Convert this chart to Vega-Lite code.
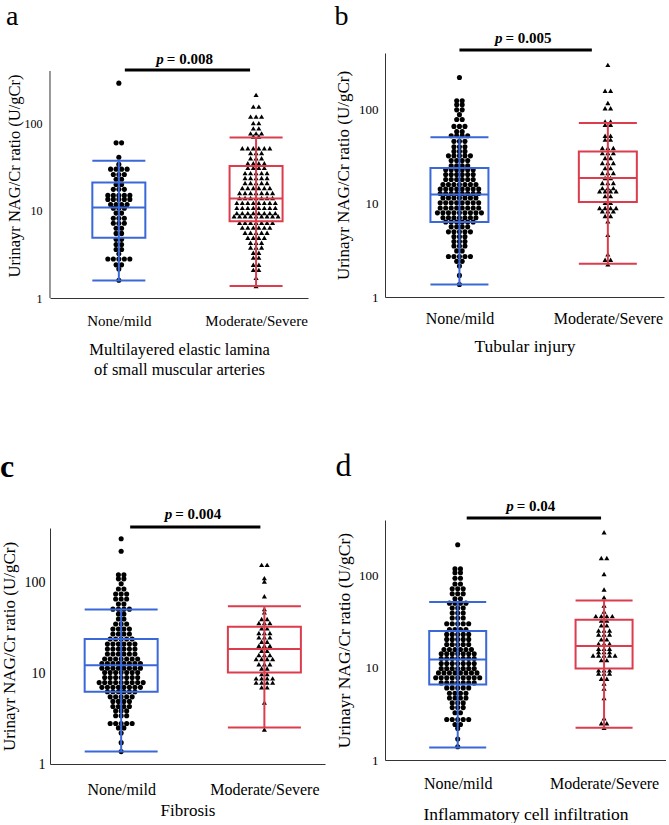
{
"$schema":"https://vega.github.io/schema/vega-lite/v6.json",
"padding":{"top":2,"left":0,"right":0,"bottom":0},
"config":{"view":{"stroke":null},"font":"Liberation Serif","axis":{"ticks":false,"grid":false,"domainColor":"#333","labelColor":"#000","titleColor":"#000","titleFontWeight":"normal","labelFont":"Liberation Serif","titleFont":"Liberation Serif"},"title":{"font":"Liberation Serif","color":"#000","anchor":"start","frame":"bounds"}},
"datasets":{
"box":[
{"p":"a","g":"N","lo":1.59,"q1":4.9,"md":10.9,"q3":21.1,"hi":37.5},
{"p":"a","g":"M","lo":1.37,"q1":7.6,"md":13.8,"q3":32.5,"hi":69},
{"p":"b","g":"N","lo":1.36,"q1":6.3,"md":12.4,"q3":23.8,"hi":50.4},
{"p":"b","g":"M","lo":2.26,"q1":10.3,"md":18.6,"q3":35.7,"hi":71.5},
{"p":"c","g":"N","lo":1.37,"q1":6.25,"md":12.3,"q3":23.9,"hi":50.4},
{"p":"c","g":"M","lo":2.52,"q1":10.2,"md":18.5,"q3":32.7,"hi":54.7},
{"p":"d","g":"N","lo":1.37,"q1":6.6,"md":12.3,"q3":25,"hi":51.5},
{"p":"d","g":"M","lo":2.23,"q1":9.8,"md":17.2,"q3":33.2,"hi":53.7}
],
"pv":[{"p":"a","t":"= 0.008"},{"p":"b","t":"= 0.005"},{"p":"c","t":"= 0.004"},{"p":"d","t":"= 0.04"}],
"pts":[
{"p":"a","g":"N","v":290},{"p":"a","g":"N","v":60},{"p":"a","g":"N","v":60},{"p":"a","g":"N","v":41},{"p":"a","g":"N","v":34},
{"p":"a","g":"N","v":30},{"p":"a","g":"N","v":30},{"p":"a","g":"N","v":30},{"p":"a","g":"N","v":30},
{"p":"a","g":"N","v":26},{"p":"a","g":"N","v":26},{"p":"a","g":"N","v":26},{"p":"a","g":"N","v":23},{"p":"a","g":"N","v":23},
{"p":"a","g":"N","v":20},{"p":"a","g":"N","v":20},{"p":"a","g":"N","v":17.6},{"p":"a","g":"N","v":17.6},{"p":"a","g":"N","v":17.6},
{"p":"a","g":"N","v":15},{"p":"a","g":"N","v":15},{"p":"a","g":"N","v":15},{"p":"a","g":"N","v":15},{"p":"a","g":"N","v":15},
{"p":"a","g":"N","v":13.5},{"p":"a","g":"N","v":13.5},{"p":"a","g":"N","v":13.5},{"p":"a","g":"N","v":13.5},{"p":"a","g":"N","v":13.5},
{"p":"a","g":"N","v":11.8},{"p":"a","g":"N","v":11.8},{"p":"a","g":"N","v":11.8},{"p":"a","g":"N","v":11.8},
{"p":"a","g":"N","v":10.7},{"p":"a","g":"N","v":10.7},{"p":"a","g":"N","v":10.7},{"p":"a","g":"N","v":9.4},{"p":"a","g":"N","v":9.4},
{"p":"a","g":"N","v":8.2},{"p":"a","g":"N","v":8.2},{"p":"a","g":"N","v":8.2},{"p":"a","g":"N","v":7.2},{"p":"a","g":"N","v":7.2},{"p":"a","g":"N","v":7.2},
{"p":"a","g":"N","v":6.3},{"p":"a","g":"N","v":6.3},{"p":"a","g":"N","v":5.5},{"p":"a","g":"N","v":5.5},{"p":"a","g":"N","v":4.7},{"p":"a","g":"N","v":4.7},
{"p":"a","g":"N","v":4.1},{"p":"a","g":"N","v":4.1},{"p":"a","g":"N","v":3.6},{"p":"a","g":"N","v":3.6},{"p":"a","g":"N","v":3.2},
{"p":"a","g":"N","v":2.8},{"p":"a","g":"N","v":2.8},{"p":"a","g":"N","v":2.8},{"p":"a","g":"N","v":2.8},{"p":"a","g":"N","v":2.8},
{"p":"a","g":"N","v":2.4},{"p":"a","g":"N","v":2.4},{"p":"a","g":"N","v":2.15},{"p":"a","g":"N","v":1.6},
{"p":"a","g":"M","v":213},{"p":"a","g":"M","v":156},{"p":"a","g":"M","v":156},{"p":"a","g":"M","v":120},{"p":"a","g":"M","v":120},{"p":"a","g":"M","v":120},
{"p":"a","g":"M","v":101},{"p":"a","g":"M","v":101},{"p":"a","g":"M","v":88},{"p":"a","g":"M","v":88},{"p":"a","g":"M","v":77},{"p":"a","g":"M","v":77},{"p":"a","g":"M","v":77},
{"p":"a","g":"M","v":71},{"p":"a","g":"M","v":71},
{"p":"a","g":"M","v":52},{"p":"a","g":"M","v":52},{"p":"a","g":"M","v":52},{"p":"a","g":"M","v":52},{"p":"a","g":"M","v":52},{"p":"a","g":"M","v":52},
{"p":"a","g":"M","v":46},{"p":"a","g":"M","v":46},{"p":"a","g":"M","v":46},{"p":"a","g":"M","v":40},{"p":"a","g":"M","v":40},{"p":"a","g":"M","v":40},
{"p":"a","g":"M","v":35},{"p":"a","g":"M","v":35},{"p":"a","g":"M","v":35},{"p":"a","g":"M","v":35},
{"p":"a","g":"M","v":31},{"p":"a","g":"M","v":31},{"p":"a","g":"M","v":31},{"p":"a","g":"M","v":31},
{"p":"a","g":"M","v":27},{"p":"a","g":"M","v":27},{"p":"a","g":"M","v":27},{"p":"a","g":"M","v":27},{"p":"a","g":"M","v":27},
{"p":"a","g":"M","v":23.7},{"p":"a","g":"M","v":23.7},{"p":"a","g":"M","v":23.7},{"p":"a","g":"M","v":23.7},{"p":"a","g":"M","v":23.7},
{"p":"a","g":"M","v":20.8},{"p":"a","g":"M","v":20.8},{"p":"a","g":"M","v":20.8},{"p":"a","g":"M","v":20.8},{"p":"a","g":"M","v":20.8},
{"p":"a","g":"M","v":18.2},{"p":"a","g":"M","v":18.2},{"p":"a","g":"M","v":18.2},{"p":"a","g":"M","v":18.2},{"p":"a","g":"M","v":18.2},{"p":"a","g":"M","v":18.2},
{"p":"a","g":"M","v":16},{"p":"a","g":"M","v":16},{"p":"a","g":"M","v":16},{"p":"a","g":"M","v":16},{"p":"a","g":"M","v":16},{"p":"a","g":"M","v":16},{"p":"a","g":"M","v":16},
{"p":"a","g":"M","v":14},{"p":"a","g":"M","v":14},{"p":"a","g":"M","v":14},{"p":"a","g":"M","v":14},{"p":"a","g":"M","v":14},{"p":"a","g":"M","v":14},{"p":"a","g":"M","v":14},
{"p":"a","g":"M","v":12.3},{"p":"a","g":"M","v":12.3},{"p":"a","g":"M","v":12.3},{"p":"a","g":"M","v":12.3},{"p":"a","g":"M","v":12.3},{"p":"a","g":"M","v":12.3},{"p":"a","g":"M","v":12.3},{"p":"a","g":"M","v":12.3},
{"p":"a","g":"M","v":10.8},{"p":"a","g":"M","v":10.8},{"p":"a","g":"M","v":10.8},{"p":"a","g":"M","v":10.8},{"p":"a","g":"M","v":10.8},{"p":"a","g":"M","v":10.8},{"p":"a","g":"M","v":10.8},{"p":"a","g":"M","v":10.8},
{"p":"a","g":"M","v":9.4},{"p":"a","g":"M","v":9.4},{"p":"a","g":"M","v":9.4},{"p":"a","g":"M","v":9.4},{"p":"a","g":"M","v":9.4},{"p":"a","g":"M","v":9.4},{"p":"a","g":"M","v":9.4},{"p":"a","g":"M","v":9.4},
{"p":"a","g":"M","v":8.65},{"p":"a","g":"M","v":8.65},{"p":"a","g":"M","v":8.65},{"p":"a","g":"M","v":8.65},{"p":"a","g":"M","v":8.65},{"p":"a","g":"M","v":8.65},{"p":"a","g":"M","v":8.65},{"p":"a","g":"M","v":8.65},{"p":"a","g":"M","v":8.65},
{"p":"a","g":"M","v":7.3},{"p":"a","g":"M","v":7.3},{"p":"a","g":"M","v":7.3},{"p":"a","g":"M","v":7.3},{"p":"a","g":"M","v":7.3},{"p":"a","g":"M","v":7.3},{"p":"a","g":"M","v":7.3},
{"p":"a","g":"M","v":6.4},{"p":"a","g":"M","v":6.4},{"p":"a","g":"M","v":6.4},{"p":"a","g":"M","v":6.4},{"p":"a","g":"M","v":6.4},{"p":"a","g":"M","v":6.4},
{"p":"a","g":"M","v":5.6},{"p":"a","g":"M","v":5.6},{"p":"a","g":"M","v":5.6},{"p":"a","g":"M","v":5.6},{"p":"a","g":"M","v":5.6},
{"p":"a","g":"M","v":4.9},{"p":"a","g":"M","v":4.9},{"p":"a","g":"M","v":4.9},{"p":"a","g":"M","v":4.9},
{"p":"a","g":"M","v":4.3},{"p":"a","g":"M","v":4.3},{"p":"a","g":"M","v":4.3},{"p":"a","g":"M","v":3.8},{"p":"a","g":"M","v":3.8},{"p":"a","g":"M","v":3.8},
{"p":"a","g":"M","v":3.3},{"p":"a","g":"M","v":3.3},{"p":"a","g":"M","v":2.9},{"p":"a","g":"M","v":2.9},{"p":"a","g":"M","v":2.4},{"p":"a","g":"M","v":2.4},
{"p":"a","g":"M","v":2.1},{"p":"a","g":"M","v":2.1},{"p":"a","g":"M","v":1.7},{"p":"a","g":"M","v":1.37},
{"p":"b","g":"N","v":219},{"p":"b","g":"N","v":124},{"p":"b","g":"N","v":124},{"p":"b","g":"N","v":112},{"p":"b","g":"N","v":112},{"p":"b","g":"N","v":99},{"p":"b","g":"N","v":99},
{"p":"b","g":"N","v":88},{"p":"b","g":"N","v":78},{"p":"b","g":"N","v":78},{"p":"b","g":"N","v":66},{"p":"b","g":"N","v":66},{"p":"b","g":"N","v":66},{"p":"b","g":"N","v":58},{"p":"b","g":"N","v":58},
{"p":"b","g":"N","v":52.5},{"p":"b","g":"N","v":52.5},{"p":"b","g":"N","v":52.5},{"p":"b","g":"N","v":52.5},
{"p":"b","g":"N","v":45.7},{"p":"b","g":"N","v":45.7},{"p":"b","g":"N","v":45.7},{"p":"b","g":"N","v":40},{"p":"b","g":"N","v":40},{"p":"b","g":"N","v":40},
{"p":"b","g":"N","v":35.7},{"p":"b","g":"N","v":35.7},{"p":"b","g":"N","v":35.7},
{"p":"b","g":"N","v":32},{"p":"b","g":"N","v":32},{"p":"b","g":"N","v":32},{"p":"b","g":"N","v":32},{"p":"b","g":"N","v":32},
{"p":"b","g":"N","v":28.5},{"p":"b","g":"N","v":28.5},{"p":"b","g":"N","v":28.5},{"p":"b","g":"N","v":28.5},
{"p":"b","g":"N","v":25},{"p":"b","g":"N","v":25},{"p":"b","g":"N","v":25},{"p":"b","g":"N","v":25},
{"p":"b","g":"N","v":22.8},{"p":"b","g":"N","v":22.8},{"p":"b","g":"N","v":22.8},{"p":"b","g":"N","v":22.8},{"p":"b","g":"N","v":22.8},{"p":"b","g":"N","v":22.8},
{"p":"b","g":"N","v":20.2},{"p":"b","g":"N","v":20.2},{"p":"b","g":"N","v":20.2},{"p":"b","g":"N","v":20.2},{"p":"b","g":"N","v":20.2},{"p":"b","g":"N","v":20.2},
{"p":"b","g":"N","v":17.9},{"p":"b","g":"N","v":17.9},{"p":"b","g":"N","v":17.9},{"p":"b","g":"N","v":17.9},{"p":"b","g":"N","v":17.9},{"p":"b","g":"N","v":17.9},
{"p":"b","g":"N","v":15.8},{"p":"b","g":"N","v":15.8},{"p":"b","g":"N","v":15.8},{"p":"b","g":"N","v":15.8},{"p":"b","g":"N","v":15.8},{"p":"b","g":"N","v":15.8},{"p":"b","g":"N","v":15.8},
{"p":"b","g":"N","v":14.2},{"p":"b","g":"N","v":14.2},{"p":"b","g":"N","v":14.2},{"p":"b","g":"N","v":14.2},{"p":"b","g":"N","v":14.2},{"p":"b","g":"N","v":14.2},{"p":"b","g":"N","v":14.2},{"p":"b","g":"N","v":14.2},
{"p":"b","g":"N","v":12.7},{"p":"b","g":"N","v":12.7},{"p":"b","g":"N","v":12.7},{"p":"b","g":"N","v":12.7},{"p":"b","g":"N","v":12.7},{"p":"b","g":"N","v":12.7},{"p":"b","g":"N","v":12.7},{"p":"b","g":"N","v":12.7},
{"p":"b","g":"N","v":11.4},{"p":"b","g":"N","v":11.4},{"p":"b","g":"N","v":11.4},{"p":"b","g":"N","v":11.4},{"p":"b","g":"N","v":11.4},{"p":"b","g":"N","v":11.4},{"p":"b","g":"N","v":11.4},
{"p":"b","g":"N","v":10.1},{"p":"b","g":"N","v":10.1},{"p":"b","g":"N","v":10.1},{"p":"b","g":"N","v":10.1},{"p":"b","g":"N","v":10.1},{"p":"b","g":"N","v":10.1},{"p":"b","g":"N","v":10.1},{"p":"b","g":"N","v":10.1},
{"p":"b","g":"N","v":8.9},{"p":"b","g":"N","v":8.9},{"p":"b","g":"N","v":8.9},{"p":"b","g":"N","v":8.9},{"p":"b","g":"N","v":8.9},{"p":"b","g":"N","v":8.9},{"p":"b","g":"N","v":8.9},{"p":"b","g":"N","v":8.9},
{"p":"b","g":"N","v":7.9},{"p":"b","g":"N","v":7.9},{"p":"b","g":"N","v":7.9},{"p":"b","g":"N","v":7.9},{"p":"b","g":"N","v":7.9},{"p":"b","g":"N","v":7.9},{"p":"b","g":"N","v":7.9},{"p":"b","g":"N","v":7.9},{"p":"b","g":"N","v":7.9},
{"p":"b","g":"N","v":7},{"p":"b","g":"N","v":7},{"p":"b","g":"N","v":7},{"p":"b","g":"N","v":7},{"p":"b","g":"N","v":7},{"p":"b","g":"N","v":7},{"p":"b","g":"N","v":7},
{"p":"b","g":"N","v":6.3},{"p":"b","g":"N","v":6.3},{"p":"b","g":"N","v":6.3},{"p":"b","g":"N","v":6.3},{"p":"b","g":"N","v":6.3},{"p":"b","g":"N","v":6.3},
{"p":"b","g":"N","v":5.6},{"p":"b","g":"N","v":5.6},{"p":"b","g":"N","v":5.6},{"p":"b","g":"N","v":5.6},
{"p":"b","g":"N","v":4.95},{"p":"b","g":"N","v":4.95},{"p":"b","g":"N","v":4.95},{"p":"b","g":"N","v":4.95},{"p":"b","g":"N","v":4.95},
{"p":"b","g":"N","v":4.4},{"p":"b","g":"N","v":4.4},{"p":"b","g":"N","v":4.4},{"p":"b","g":"N","v":3.9},{"p":"b","g":"N","v":3.9},{"p":"b","g":"N","v":3.9},
{"p":"b","g":"N","v":3.5},{"p":"b","g":"N","v":3.5},{"p":"b","g":"N","v":3.5},{"p":"b","g":"N","v":3.1},{"p":"b","g":"N","v":3.1},
{"p":"b","g":"N","v":2.7},{"p":"b","g":"N","v":2.7},{"p":"b","g":"N","v":2.7},{"p":"b","g":"N","v":2.7},{"p":"b","g":"N","v":2.7},
{"p":"b","g":"N","v":2.4},{"p":"b","g":"N","v":2.4},{"p":"b","g":"N","v":2.14},{"p":"b","g":"N","v":1.7},{"p":"b","g":"N","v":1.36},
{"p":"b","g":"M","v":299},{"p":"b","g":"M","v":158},{"p":"b","g":"M","v":158},{"p":"b","g":"M","v":117},{"p":"b","g":"M","v":103},{"p":"b","g":"M","v":103},
{"p":"b","g":"M","v":74.5},{"p":"b","g":"M","v":74.5},{"p":"b","g":"M","v":68.7},{"p":"b","g":"M","v":68.7},{"p":"b","g":"M","v":52.5},{"p":"b","g":"M","v":52.5},
{"p":"b","g":"M","v":47.7},{"p":"b","g":"M","v":47.7},{"p":"b","g":"M","v":38.8},{"p":"b","g":"M","v":38.8},{"p":"b","g":"M","v":38.8},
{"p":"b","g":"M","v":34.3},{"p":"b","g":"M","v":34.3},{"p":"b","g":"M","v":34.3},{"p":"b","g":"M","v":30.3},{"p":"b","g":"M","v":30.3},
{"p":"b","g":"M","v":26.8},{"p":"b","g":"M","v":26.8},{"p":"b","g":"M","v":26.8},{"p":"b","g":"M","v":23.7},{"p":"b","g":"M","v":23.7},
{"p":"b","g":"M","v":21},{"p":"b","g":"M","v":21},{"p":"b","g":"M","v":21},{"p":"b","g":"M","v":18.6},{"p":"b","g":"M","v":18.6},
{"p":"b","g":"M","v":16.4},{"p":"b","g":"M","v":16.4},{"p":"b","g":"M","v":16.4},{"p":"b","g":"M","v":14.5},{"p":"b","g":"M","v":14.5},{"p":"b","g":"M","v":14.5},
{"p":"b","g":"M","v":13.4},{"p":"b","g":"M","v":13.4},{"p":"b","g":"M","v":13.4},{"p":"b","g":"M","v":13.4},{"p":"b","g":"M","v":11.9},{"p":"b","g":"M","v":11.9},
{"p":"b","g":"M","v":10.1},{"p":"b","g":"M","v":10.1},{"p":"b","g":"M","v":8.9},{"p":"b","g":"M","v":8.9},{"p":"b","g":"M","v":8.9},{"p":"b","g":"M","v":8.9},
{"p":"b","g":"M","v":8.2},{"p":"b","g":"M","v":8.2},{"p":"b","g":"M","v":8.2},{"p":"b","g":"M","v":7.3},{"p":"b","g":"M","v":7.3},{"p":"b","g":"M","v":6.4},
{"p":"b","g":"M","v":4.6},{"p":"b","g":"M","v":2.85},{"p":"b","g":"M","v":2.5},{"p":"b","g":"M","v":2.5},{"p":"b","g":"M","v":2.23},
{"p":"c","g":"N","v":304},{"p":"c","g":"N","v":222},{"p":"c","g":"N","v":122},{"p":"c","g":"N","v":122},{"p":"c","g":"N","v":110},{"p":"c","g":"N","v":110},
{"p":"c","g":"N","v":97},{"p":"c","g":"N","v":85},{"p":"c","g":"N","v":85},{"p":"c","g":"N","v":75},{"p":"c","g":"N","v":75},{"p":"c","g":"N","v":75},
{"p":"c","g":"N","v":66},{"p":"c","g":"N","v":66},{"p":"c","g":"N","v":66},{"p":"c","g":"N","v":58},{"p":"c","g":"N","v":58},
{"p":"c","g":"N","v":51},{"p":"c","g":"N","v":51},{"p":"c","g":"N","v":51},{"p":"c","g":"N","v":51},{"p":"c","g":"N","v":45},{"p":"c","g":"N","v":45},
{"p":"c","g":"N","v":39.7},{"p":"c","g":"N","v":39.7},{"p":"c","g":"N","v":35},{"p":"c","g":"N","v":35},{"p":"c","g":"N","v":35},
{"p":"c","g":"N","v":30.8},{"p":"c","g":"N","v":30.8},{"p":"c","g":"N","v":30.8},{"p":"c","g":"N","v":30.8},
{"p":"c","g":"N","v":27.1},{"p":"c","g":"N","v":27.1},{"p":"c","g":"N","v":27.1},{"p":"c","g":"N","v":27.1},
{"p":"c","g":"N","v":23.9},{"p":"c","g":"N","v":23.9},{"p":"c","g":"N","v":23.9},{"p":"c","g":"N","v":23.9},{"p":"c","g":"N","v":23.9},
{"p":"c","g":"N","v":21},{"p":"c","g":"N","v":21},{"p":"c","g":"N","v":21},{"p":"c","g":"N","v":21},{"p":"c","g":"N","v":21},{"p":"c","g":"N","v":21},
{"p":"c","g":"N","v":18.5},{"p":"c","g":"N","v":18.5},{"p":"c","g":"N","v":18.5},{"p":"c","g":"N","v":18.5},{"p":"c","g":"N","v":18.5},{"p":"c","g":"N","v":18.5},
{"p":"c","g":"N","v":16.3},{"p":"c","g":"N","v":16.3},{"p":"c","g":"N","v":16.3},{"p":"c","g":"N","v":16.3},{"p":"c","g":"N","v":16.3},{"p":"c","g":"N","v":16.3},
{"p":"c","g":"N","v":14.4},{"p":"c","g":"N","v":14.4},{"p":"c","g":"N","v":14.4},{"p":"c","g":"N","v":14.4},{"p":"c","g":"N","v":14.4},{"p":"c","g":"N","v":14.4},{"p":"c","g":"N","v":14.4},
{"p":"c","g":"N","v":12.8},{"p":"c","g":"N","v":12.8},{"p":"c","g":"N","v":12.8},{"p":"c","g":"N","v":12.8},{"p":"c","g":"N","v":12.8},{"p":"c","g":"N","v":12.8},{"p":"c","g":"N","v":12.8},{"p":"c","g":"N","v":12.8},
{"p":"c","g":"N","v":11.4},{"p":"c","g":"N","v":11.4},{"p":"c","g":"N","v":11.4},{"p":"c","g":"N","v":11.4},{"p":"c","g":"N","v":11.4},{"p":"c","g":"N","v":11.4},{"p":"c","g":"N","v":11.4},{"p":"c","g":"N","v":11.4},
{"p":"c","g":"N","v":10.2},{"p":"c","g":"N","v":10.2},{"p":"c","g":"N","v":10.2},{"p":"c","g":"N","v":10.2},{"p":"c","g":"N","v":10.2},{"p":"c","g":"N","v":10.2},{"p":"c","g":"N","v":10.2},
{"p":"c","g":"N","v":9},{"p":"c","g":"N","v":9},{"p":"c","g":"N","v":9},{"p":"c","g":"N","v":9},{"p":"c","g":"N","v":9},{"p":"c","g":"N","v":9},{"p":"c","g":"N","v":9},
{"p":"c","g":"N","v":7.9},{"p":"c","g":"N","v":7.9},{"p":"c","g":"N","v":7.9},{"p":"c","g":"N","v":7.9},{"p":"c","g":"N","v":7.9},{"p":"c","g":"N","v":7.9},{"p":"c","g":"N","v":7.9},{"p":"c","g":"N","v":7.9},{"p":"c","g":"N","v":7.9},
{"p":"c","g":"N","v":7},{"p":"c","g":"N","v":7},{"p":"c","g":"N","v":7},{"p":"c","g":"N","v":7},{"p":"c","g":"N","v":7},{"p":"c","g":"N","v":7},{"p":"c","g":"N","v":7},{"p":"c","g":"N","v":7},
{"p":"c","g":"N","v":6.25},{"p":"c","g":"N","v":6.25},{"p":"c","g":"N","v":6.25},{"p":"c","g":"N","v":6.25},{"p":"c","g":"N","v":6.25},{"p":"c","g":"N","v":6.25},
{"p":"c","g":"N","v":5.5},{"p":"c","g":"N","v":5.5},{"p":"c","g":"N","v":5.5},{"p":"c","g":"N","v":5.5},{"p":"c","g":"N","v":5.5},
{"p":"c","g":"N","v":4.9},{"p":"c","g":"N","v":4.9},{"p":"c","g":"N","v":4.9},{"p":"c","g":"N","v":4.9},
{"p":"c","g":"N","v":4.3},{"p":"c","g":"N","v":4.3},{"p":"c","g":"N","v":4.3},{"p":"c","g":"N","v":4.3},
{"p":"c","g":"N","v":3.85},{"p":"c","g":"N","v":3.85},{"p":"c","g":"N","v":3.85},{"p":"c","g":"N","v":3.4},{"p":"c","g":"N","v":3.4},{"p":"c","g":"N","v":3.4},
{"p":"c","g":"N","v":2.8},{"p":"c","g":"N","v":2.8},{"p":"c","g":"N","v":2.8},{"p":"c","g":"N","v":2.8},{"p":"c","g":"N","v":2.8},
{"p":"c","g":"N","v":2.5},{"p":"c","g":"N","v":2.5},{"p":"c","g":"N","v":2.2},{"p":"c","g":"N","v":1.72},{"p":"c","g":"N","v":1.37},
{"p":"c","g":"M","v":157},{"p":"c","g":"M","v":157},{"p":"c","g":"M","v":112},{"p":"c","g":"M","v":103},{"p":"c","g":"M","v":70.6},{"p":"c","g":"M","v":51},{"p":"c","g":"M","v":47},
{"p":"c","g":"M","v":39.7},{"p":"c","g":"M","v":39.7},{"p":"c","g":"M","v":35.8},{"p":"c","g":"M","v":35.8},{"p":"c","g":"M","v":35.8},
{"p":"c","g":"M","v":31.3},{"p":"c","g":"M","v":31.3},{"p":"c","g":"M","v":27.8},{"p":"c","g":"M","v":27.8},{"p":"c","g":"M","v":27.8},
{"p":"c","g":"M","v":24.9},{"p":"c","g":"M","v":24.9},{"p":"c","g":"M","v":24.9},{"p":"c","g":"M","v":22.3},{"p":"c","g":"M","v":22.3},
{"p":"c","g":"M","v":20.1},{"p":"c","g":"M","v":20.1},{"p":"c","g":"M","v":20.1},{"p":"c","g":"M","v":17.7},{"p":"c","g":"M","v":17.7},
{"p":"c","g":"M","v":15.9},{"p":"c","g":"M","v":15.9},{"p":"c","g":"M","v":15.9},{"p":"c","g":"M","v":14.4},{"p":"c","g":"M","v":14.4},{"p":"c","g":"M","v":14.4},{"p":"c","g":"M","v":14.4},
{"p":"c","g":"M","v":12.6},{"p":"c","g":"M","v":12.6},{"p":"c","g":"M","v":12.6},{"p":"c","g":"M","v":11.3},{"p":"c","g":"M","v":11.3},{"p":"c","g":"M","v":9.8},{"p":"c","g":"M","v":9.8},
{"p":"c","g":"M","v":8.8},{"p":"c","g":"M","v":8.8},{"p":"c","g":"M","v":8.8},{"p":"c","g":"M","v":8.8},{"p":"c","g":"M","v":7.9},{"p":"c","g":"M","v":7.9},{"p":"c","g":"M","v":7.9},{"p":"c","g":"M","v":7.9},
{"p":"c","g":"M","v":7},{"p":"c","g":"M","v":7},{"p":"c","g":"M","v":4.75},{"p":"c","g":"M","v":2.4},
{"p":"d","g":"N","v":216},{"p":"d","g":"N","v":118},{"p":"d","g":"N","v":118},{"p":"d","g":"N","v":107},{"p":"d","g":"N","v":107},{"p":"d","g":"N","v":93.5},{"p":"d","g":"N","v":93.5},
{"p":"d","g":"N","v":81},{"p":"d","g":"N","v":81},{"p":"d","g":"N","v":71.8},{"p":"d","g":"N","v":71.8},{"p":"d","g":"N","v":71.8},{"p":"d","g":"N","v":63.4},{"p":"d","g":"N","v":63.4},{"p":"d","g":"N","v":63.4},
{"p":"d","g":"N","v":56},{"p":"d","g":"N","v":56},{"p":"d","g":"N","v":50.2},{"p":"d","g":"N","v":50.2},{"p":"d","g":"N","v":50.2},{"p":"d","g":"N","v":50.2},
{"p":"d","g":"N","v":44.4},{"p":"d","g":"N","v":44.4},{"p":"d","g":"N","v":44.4},{"p":"d","g":"N","v":39.2},{"p":"d","g":"N","v":39.2},{"p":"d","g":"N","v":39.2},
{"p":"d","g":"N","v":34.6},{"p":"d","g":"N","v":34.6},{"p":"d","g":"N","v":34.6},
{"p":"d","g":"N","v":30},{"p":"d","g":"N","v":30},{"p":"d","g":"N","v":30},{"p":"d","g":"N","v":30},{"p":"d","g":"N","v":30},
{"p":"d","g":"N","v":26},{"p":"d","g":"N","v":26},{"p":"d","g":"N","v":26},{"p":"d","g":"N","v":26},
{"p":"d","g":"N","v":23},{"p":"d","g":"N","v":23},{"p":"d","g":"N","v":23},{"p":"d","g":"N","v":23},{"p":"d","g":"N","v":23},
{"p":"d","g":"N","v":20.3},{"p":"d","g":"N","v":20.3},{"p":"d","g":"N","v":20.3},{"p":"d","g":"N","v":20.3},{"p":"d","g":"N","v":20.3},
{"p":"d","g":"N","v":17.9},{"p":"d","g":"N","v":17.9},{"p":"d","g":"N","v":17.9},{"p":"d","g":"N","v":17.9},{"p":"d","g":"N","v":17.9},
{"p":"d","g":"N","v":15.8},{"p":"d","g":"N","v":15.8},{"p":"d","g":"N","v":15.8},{"p":"d","g":"N","v":15.8},{"p":"d","g":"N","v":15.8},{"p":"d","g":"N","v":15.8},
{"p":"d","g":"N","v":14.2},{"p":"d","g":"N","v":14.2},{"p":"d","g":"N","v":14.2},{"p":"d","g":"N","v":14.2},{"p":"d","g":"N","v":14.2},{"p":"d","g":"N","v":14.2},{"p":"d","g":"N","v":14.2},
{"p":"d","g":"N","v":12.6},{"p":"d","g":"N","v":12.6},{"p":"d","g":"N","v":12.6},{"p":"d","g":"N","v":12.6},{"p":"d","g":"N","v":12.6},{"p":"d","g":"N","v":12.6},{"p":"d","g":"N","v":12.6},
{"p":"d","g":"N","v":11.1},{"p":"d","g":"N","v":11.1},{"p":"d","g":"N","v":11.1},{"p":"d","g":"N","v":11.1},{"p":"d","g":"N","v":11.1},{"p":"d","g":"N","v":11.1},{"p":"d","g":"N","v":11.1},
{"p":"d","g":"N","v":9.8},{"p":"d","g":"N","v":9.8},{"p":"d","g":"N","v":9.8},{"p":"d","g":"N","v":9.8},{"p":"d","g":"N","v":9.8},{"p":"d","g":"N","v":9.8},{"p":"d","g":"N","v":9.8},
{"p":"d","g":"N","v":8.8},{"p":"d","g":"N","v":8.8},{"p":"d","g":"N","v":8.8},{"p":"d","g":"N","v":8.8},{"p":"d","g":"N","v":8.8},{"p":"d","g":"N","v":8.8},{"p":"d","g":"N","v":8.8},{"p":"d","g":"N","v":8.8},
{"p":"d","g":"N","v":7.8},{"p":"d","g":"N","v":7.8},{"p":"d","g":"N","v":7.8},{"p":"d","g":"N","v":7.8},{"p":"d","g":"N","v":7.8},{"p":"d","g":"N","v":7.8},{"p":"d","g":"N","v":7.8},{"p":"d","g":"N","v":7.8},{"p":"d","g":"N","v":7.8},
{"p":"d","g":"N","v":6.85},{"p":"d","g":"N","v":6.85},{"p":"d","g":"N","v":6.85},{"p":"d","g":"N","v":6.85},{"p":"d","g":"N","v":6.85},{"p":"d","g":"N","v":6.85},{"p":"d","g":"N","v":6.85},
{"p":"d","g":"N","v":6.05},{"p":"d","g":"N","v":6.05},{"p":"d","g":"N","v":6.05},{"p":"d","g":"N","v":6.05},{"p":"d","g":"N","v":6.05},
{"p":"d","g":"N","v":5.3},{"p":"d","g":"N","v":5.3},{"p":"d","g":"N","v":5.3},{"p":"d","g":"N","v":5.3},
{"p":"d","g":"N","v":4.7},{"p":"d","g":"N","v":4.7},{"p":"d","g":"N","v":4.7},{"p":"d","g":"N","v":4.7},
{"p":"d","g":"N","v":4.16},{"p":"d","g":"N","v":4.16},{"p":"d","g":"N","v":4.16},{"p":"d","g":"N","v":3.7},{"p":"d","g":"N","v":3.7},{"p":"d","g":"N","v":3.7},
{"p":"d","g":"N","v":3.25},{"p":"d","g":"N","v":3.25},
{"p":"d","g":"N","v":2.75},{"p":"d","g":"N","v":2.75},{"p":"d","g":"N","v":2.75},{"p":"d","g":"N","v":2.75},{"p":"d","g":"N","v":2.75},
{"p":"d","g":"N","v":2.43},{"p":"d","g":"N","v":2.43},{"p":"d","g":"N","v":2.2},{"p":"d","g":"N","v":1.69},{"p":"d","g":"N","v":1.39},
{"p":"d","g":"M","v":294},{"p":"d","g":"M","v":155},{"p":"d","g":"M","v":155},{"p":"d","g":"M","v":104},{"p":"d","g":"M","v":70.6},{"p":"d","g":"M","v":58},{"p":"d","g":"M","v":47.4},{"p":"d","g":"M","v":40.8},
{"p":"d","g":"M","v":36.3},{"p":"d","g":"M","v":36.3},{"p":"d","g":"M","v":36.3},{"p":"d","g":"M","v":36.3},{"p":"d","g":"M","v":32.6},{"p":"d","g":"M","v":32.6},
{"p":"d","g":"M","v":28.8},{"p":"d","g":"M","v":28.8},{"p":"d","g":"M","v":25.4},{"p":"d","g":"M","v":25.4},{"p":"d","g":"M","v":25.4},
{"p":"d","g":"M","v":22.9},{"p":"d","g":"M","v":22.9},{"p":"d","g":"M","v":22.9},{"p":"d","g":"M","v":20.3},{"p":"d","g":"M","v":20.3},
{"p":"d","g":"M","v":18.2},{"p":"d","g":"M","v":18.2},{"p":"d","g":"M","v":18.2},{"p":"d","g":"M","v":16.1},{"p":"d","g":"M","v":16.1},{"p":"d","g":"M","v":16.1},
{"p":"d","g":"M","v":14.8},{"p":"d","g":"M","v":14.8},{"p":"d","g":"M","v":14.8},
{"p":"d","g":"M","v":13.6},{"p":"d","g":"M","v":13.6},{"p":"d","g":"M","v":13.6},{"p":"d","g":"M","v":13.6},{"p":"d","g":"M","v":13.6},
{"p":"d","g":"M","v":12.1},{"p":"d","g":"M","v":12.1},{"p":"d","g":"M","v":9.4},{"p":"d","g":"M","v":9.4},{"p":"d","g":"M","v":9.4},
{"p":"d","g":"M","v":8.65},{"p":"d","g":"M","v":8.65},{"p":"d","g":"M","v":8.65},{"p":"d","g":"M","v":7.6},{"p":"d","g":"M","v":7.6},
{"p":"d","g":"M","v":6.75},{"p":"d","g":"M","v":5.96},{"p":"d","g":"M","v":4.7},{"p":"d","g":"M","v":2.83},{"p":"d","g":"M","v":2.5},{"p":"d","g":"M","v":2.5},{"p":"d","g":"M","v":2.23}
]},
"spacing":9,
"hconcat":[
{"spacing":73,"vconcat":[
{"width":258,"height":245,
 "title":{"text":"a","fontSize":28,"fontWeight":"normal","offset":21},
 "layer":[
  {"data":{"name":"pts"},"transform":[{"filter":"datum.p=='a'"},{"window":[{"op":"count","as":"one"}],"frame":[0,0]},{"stack":"one","groupby":["g","v"],"offset":"center","as":["s0","s1"]}],
   "mark":{"type":"point","filled":true,"opacity":1,"size":26,"color":"#000"},
   "encoding":{
    "x":{"field":"g","type":"nominal","scale":{"type":"point","domain":["N","M"],"padding":0.44,"align":0.57},"axis":{"title":["Multilayered elastic lamina","of small muscular arteries"],"labelExpr":"datum.value=='N'?'None/mild':'Moderate/Severe'","labelAngle":0,"labelFont":"Liberation Serif","titleFont":"Liberation Serif","labelFontSize":15,"titleFontSize":16.5,"titleLineHeight":20,"labelPadding":15,"titlePadding":13,"encode":{"labels":{"update":{"font":{"value":"Liberation Serif"}}}}}},
    "xOffset":{"field":"s0","type":"quantitative","scale":{"domain":[-6,14],"range":[-55,55]}},
    "y":{"field":"v","type":"quantitative","scale":{"type":"log","domain":[1,643]},"axis":{"title":"Urinayr NAG/Cr ratio (U/gCr)","domain":false,"values":[1,10,100],"format":"d","labelFont":"Liberation Serif","titleFont":"Liberation Serif","labelFontSize":12,"titleFontSize":16.5,"labelPadding":8,"titlePadding":2,"encode":{"labels":{"update":{"font":{"value":"Liberation Serif"}}}}}},
    "shape":{"field":"g","type":"nominal","scale":{"domain":["N","M"],"range":["circle","triangle-up"]},"legend":null}}},
  {"data":{"name":"pv"},"transform":[{"filter":"datum.p=='a'"}],"mark":{"type":"rule","strokeWidth":1,"color":"#333","xOffset":-68.84},
   "encoding":{"x":{"datum":"N","type":"nominal","scale":{"type":"point","domain":["N","M"],"padding":0.44,"align":0.57}},"y":{"datum":1,"type":"quantitative","scale":{"type":"log","domain":[1,643]}},"y2":{"datum":400}}},
  {"data":{"name":"box"},"transform":[{"filter":"datum.p=='a'"}],"mark":{"type":"rule","strokeWidth":2},
   "encoding":{"x":{"field":"g","type":"nominal","scale":{"type":"point","domain":["N","M"],"padding":0.44,"align":0.57}},"y":{"field":"lo","type":"quantitative","scale":{"type":"log","domain":[1,643]}},"y2":{"field":"hi"},"color":{"field":"g","type":"nominal","scale":{"domain":["N","M"],"range":["#3a68d8","#dc3c4c"]},"legend":null}}},
  {"data":{"name":"box"},"transform":[{"filter":"datum.p=='a'"}],"mark":{"type":"bar","width":53,"filled":false,"strokeWidth":2},
   "encoding":{"x":{"field":"g","type":"nominal","scale":{"type":"point","domain":["N","M"],"padding":0.44,"align":0.57}},"y":{"field":"q1","type":"quantitative","scale":{"type":"log","domain":[1,643]}},"y2":{"field":"q3"},"color":{"field":"g","type":"nominal","scale":{"domain":["N","M"],"range":["#3a68d8","#dc3c4c"]},"legend":null}}},
  {"data":{"name":"box"},"transform":[{"filter":"datum.p=='a'"},{"fold":["lo","md","hi"]}],"mark":{"type":"bar","width":53,"filled":false,"strokeWidth":2},
   "encoding":{"x":{"field":"g","type":"nominal","scale":{"type":"point","domain":["N","M"],"padding":0.44,"align":0.57}},"y":{"field":"value","type":"quantitative","scale":{"type":"log","domain":[1,643]}},"y2":{"field":"value"},"color":{"field":"g","type":"nominal","scale":{"domain":["N","M"],"range":["#3a68d8","#dc3c4c"]},"legend":null}}},
  {"data":{"name":"pv"},"transform":[{"filter":"datum.p=='a'"}],"mark":{"type":"rule","strokeWidth":3,"color":"#000","xOffset":6,"x2Offset":-6,"yOffset":-1},
   "encoding":{"x":{"datum":"N","type":"nominal","scale":{"type":"point","domain":["N","M"],"padding":0.44,"align":0.57}},"x2":{"datum":"M"},"y":{"datum":400,"type":"quantitative","scale":{"type":"log","domain":[1,643]}}}},
  {"data":{"name":"pv"},"transform":[{"filter":"datum.p=='a'"}],"mark":{"type":"text","text":"p","fontStyle":"italic","fontWeight":"bold","fontSize":15,"align":"right","baseline":"alphabetic","xOffset":45,"yOffset":-7,"color":"#000"},
   "encoding":{"x":{"datum":"N","type":"nominal","scale":{"type":"point","domain":["N","M"],"padding":0.44,"align":0.57}},"y":{"datum":400,"type":"quantitative","scale":{"type":"log","domain":[1,643]}}}},
  {"data":{"name":"pv"},"transform":[{"filter":"datum.p=='a'"}],"mark":{"type":"text","fontWeight":"bold","fontSize":15,"align":"left","baseline":"alphabetic","xOffset":48,"yOffset":-7,"color":"#000"},
   "encoding":{"text":{"field":"t"},"x":{"datum":"N","type":"nominal","scale":{"type":"point","domain":["N","M"],"padding":0.44,"align":0.57}},"y":{"datum":400,"type":"quantitative","scale":{"type":"log","domain":[1,643]}}}}
 ]},
{"width":275,"height":236,
 "title":{"text":"c","fontSize":32,"fontWeight":"bold","offset":23},
 "layer":[
  {"data":{"name":"pts"},"transform":[{"filter":"datum.p=='c'"},{"window":[{"op":"count","as":"one"}],"frame":[0,0]},{"stack":"one","groupby":["g","v"],"offset":"center","as":["s0","s1"]}],
   "mark":{"type":"point","filled":true,"opacity":1,"size":26,"color":"#000"},
   "encoding":{
    "x":{"field":"g","type":"nominal","scale":{"type":"point","domain":["N","M"],"padding":0.46,"align":0.54},"axis":{"title":"Fibrosis","labelExpr":"datum.value=='N'?'None/mild':'Moderate/Severe'","labelAngle":0,"labelFont":"Liberation Serif","titleFont":"Liberation Serif","labelFontSize":16,"titleFontSize":17,"labelPadding":17,"titlePadding":5,"encode":{"labels":{"update":{"font":{"value":"Liberation Serif"}}}}}},
    "xOffset":{"field":"s0","type":"quantitative","scale":{"domain":[-6,14],"range":[-55,55]}},
    "y":{"field":"v","type":"quantitative","scale":{"type":"log","domain":[1,400]},"axis":{"title":"Urinayr NAG/Cr ratio (U/gCr)","values":[1,10,100],"format":"d","labelFont":"Liberation Serif","titleFont":"Liberation Serif","labelFontSize":14,"titleFontSize":17,"labelPadding":5,"titlePadding":6,"encode":{"labels":{"update":{"font":{"value":"Liberation Serif"}}}}}},
    "shape":{"field":"g","type":"nominal","scale":{"domain":["N","M"],"range":["circle","triangle-up"]},"legend":null}}},
  {"data":{"name":"box"},"transform":[{"filter":"datum.p=='c'"}],"mark":{"type":"rule","strokeWidth":2},
   "encoding":{"x":{"field":"g","type":"nominal","scale":{"type":"point","domain":["N","M"],"padding":0.46,"align":0.54}},"y":{"field":"lo","type":"quantitative","scale":{"type":"log","domain":[1,400]}},"y2":{"field":"hi"},"color":{"field":"g","type":"nominal","scale":{"domain":["N","M"],"range":["#3a68d8","#e8303c"]},"legend":null}}},
  {"data":{"name":"box"},"transform":[{"filter":"datum.p=='c'"}],"mark":{"type":"bar","width":73,"filled":false,"strokeWidth":2},
   "encoding":{"x":{"field":"g","type":"nominal","scale":{"type":"point","domain":["N","M"],"padding":0.46,"align":0.54}},"y":{"field":"q1","type":"quantitative","scale":{"type":"log","domain":[1,400]}},"y2":{"field":"q3"},"color":{"field":"g","type":"nominal","scale":{"domain":["N","M"],"range":["#3a68d8","#e8303c"]},"legend":null}}},
  {"data":{"name":"box"},"transform":[{"filter":"datum.p=='c'"},{"fold":["lo","md","hi"]}],"mark":{"type":"bar","width":73,"filled":false,"strokeWidth":2},
   "encoding":{"x":{"field":"g","type":"nominal","scale":{"type":"point","domain":["N","M"],"padding":0.46,"align":0.54}},"y":{"field":"value","type":"quantitative","scale":{"type":"log","domain":[1,400]}},"y2":{"field":"value"},"color":{"field":"g","type":"nominal","scale":{"domain":["N","M"],"range":["#3a68d8","#e8303c"]},"legend":null}}},
  {"data":{"name":"pv"},"transform":[{"filter":"datum.p=='c'"}],"mark":{"type":"rule","strokeWidth":3,"color":"#000","xOffset":9,"x2Offset":-4,"yOffset":-1},
   "encoding":{"x":{"datum":"N","type":"nominal","scale":{"type":"point","domain":["N","M"],"padding":0.46,"align":0.54}},"x2":{"datum":"M"},"y":{"datum":400,"type":"quantitative","scale":{"type":"log","domain":[1,400]}}}},
  {"data":{"name":"pv"},"transform":[{"filter":"datum.p=='c'"}],"mark":{"type":"text","text":"p","fontStyle":"italic","fontWeight":"bold","fontSize":15,"align":"right","baseline":"alphabetic","xOffset":51,"yOffset":-9,"color":"#000"},
   "encoding":{"x":{"datum":"N","type":"nominal","scale":{"type":"point","domain":["N","M"],"padding":0.46,"align":0.54}},"y":{"datum":400,"type":"quantitative","scale":{"type":"log","domain":[1,400]}}}},
  {"data":{"name":"pv"},"transform":[{"filter":"datum.p=='c'"}],"mark":{"type":"text","fontWeight":"bold","fontSize":15,"align":"left","baseline":"alphabetic","xOffset":54,"yOffset":-9,"color":"#000"},
   "encoding":{"text":{"field":"t"},"x":{"datum":"N","type":"nominal","scale":{"type":"point","domain":["N","M"],"padding":0.46,"align":0.54}},"y":{"datum":400,"type":"quantitative","scale":{"type":"log","domain":[1,400]}}}}
 ]}
]},
{"spacing":95,"vconcat":[
{"width":279,"height":244,
 "title":{"text":"b","fontSize":28,"fontWeight":"normal","offset":0},
 "layer":[
  {"data":{"name":"pts"},"transform":[{"filter":"datum.p=='b'"},{"window":[{"op":"count","as":"one"}],"frame":[0,0]},{"stack":"one","groupby":["g","v"],"offset":"center","as":["s0","s1"]}],
   "mark":{"type":"point","filled":true,"opacity":1,"size":26,"color":"#000"},
   "encoding":{
    "x":{"field":"g","type":"nominal","scale":{"type":"point","domain":["N","M"],"padding":0.44,"align":0.57},"axis":{"title":"Tubular injury","labelExpr":"datum.value=='N'?'None/mild':'Moderate/Severe'","labelAngle":0,"labelFont":"Liberation Serif","titleFont":"Liberation Serif","labelFontSize":16,"titleFontSize":17.5,"labelPadding":13,"titlePadding":11,"encode":{"labels":{"update":{"font":{"value":"Liberation Serif"}}}}}},
    "xOffset":{"field":"s0","type":"quantitative","scale":{"domain":[-6,14],"range":[-55,55]}},
    "y":{"field":"v","type":"quantitative","scale":{"type":"log","domain":[1,400]},"axis":{"title":"Urinayr NAG/Cr ratio (U/gCr)","values":[1,10,100],"format":"d","labelFont":"Liberation Serif","titleFont":"Liberation Serif","labelFontSize":13,"titleFontSize":17,"labelPadding":7,"titlePadding":6,"encode":{"labels":{"update":{"font":{"value":"Liberation Serif"}}}}}},
    "shape":{"field":"g","type":"nominal","scale":{"domain":["N","M"],"range":["circle","triangle-up"]},"legend":null}}},
  {"data":{"name":"box"},"transform":[{"filter":"datum.p=='b'"}],"mark":{"type":"rule","strokeWidth":2},
   "encoding":{"x":{"field":"g","type":"nominal","scale":{"type":"point","domain":["N","M"],"padding":0.44,"align":0.57}},"y":{"field":"lo","type":"quantitative","scale":{"type":"log","domain":[1,400]}},"y2":{"field":"hi"},"color":{"field":"g","type":"nominal","scale":{"domain":["N","M"],"range":["#3a68d8","#dc3c4c"]},"legend":null}}},
  {"data":{"name":"box"},"transform":[{"filter":"datum.p=='b'"}],"mark":{"type":"bar","width":58,"filled":false,"strokeWidth":2},
   "encoding":{"x":{"field":"g","type":"nominal","scale":{"type":"point","domain":["N","M"],"padding":0.44,"align":0.57}},"y":{"field":"q1","type":"quantitative","scale":{"type":"log","domain":[1,400]}},"y2":{"field":"q3"},"color":{"field":"g","type":"nominal","scale":{"domain":["N","M"],"range":["#3a68d8","#dc3c4c"]},"legend":null}}},
  {"data":{"name":"box"},"transform":[{"filter":"datum.p=='b'"},{"fold":["lo","md","hi"]}],"mark":{"type":"bar","width":58,"filled":false,"strokeWidth":2},
   "encoding":{"x":{"field":"g","type":"nominal","scale":{"type":"point","domain":["N","M"],"padding":0.44,"align":0.57}},"y":{"field":"value","type":"quantitative","scale":{"type":"log","domain":[1,400]}},"y2":{"field":"value"},"color":{"field":"g","type":"nominal","scale":{"domain":["N","M"],"range":["#3a68d8","#dc3c4c"]},"legend":null}}},
  {"data":{"name":"pv"},"transform":[{"filter":"datum.p=='b'"}],"mark":{"type":"rule","strokeWidth":3,"color":"#000","xOffset":0,"x2Offset":-16,"yOffset":-3},
   "encoding":{"x":{"datum":"N","type":"nominal","scale":{"type":"point","domain":["N","M"],"padding":0.44,"align":0.57}},"x2":{"datum":"M"},"y":{"datum":400,"type":"quantitative","scale":{"type":"log","domain":[1,400]}}}},
  {"data":{"name":"pv"},"transform":[{"filter":"datum.p=='b'"}],"mark":{"type":"text","text":"p","fontStyle":"italic","fontWeight":"bold","fontSize":15,"align":"right","baseline":"alphabetic","xOffset":43,"yOffset":-10,"color":"#000"},
   "encoding":{"x":{"datum":"N","type":"nominal","scale":{"type":"point","domain":["N","M"],"padding":0.44,"align":0.57}},"y":{"datum":400,"type":"quantitative","scale":{"type":"log","domain":[1,400]}}}},
  {"data":{"name":"pv"},"transform":[{"filter":"datum.p=='b'"}],"mark":{"type":"text","fontWeight":"bold","fontSize":15,"align":"left","baseline":"alphabetic","xOffset":46,"yOffset":-10,"color":"#000"},
   "encoding":{"text":{"field":"t"},"x":{"datum":"N","type":"nominal","scale":{"type":"point","domain":["N","M"],"padding":0.44,"align":0.57}},"y":{"datum":400,"type":"quantitative","scale":{"type":"log","domain":[1,400]}}}}
 ]},
{"width":281,"height":240,
 "title":{"text":"d","fontSize":32,"fontWeight":"normal","offset":16},
 "layer":[
  {"data":{"name":"pts"},"transform":[{"filter":"datum.p=='d'"},{"window":[{"op":"count","as":"one"}],"frame":[0,0]},{"stack":"one","groupby":["g","v"],"offset":"center","as":["s0","s1"]}],
   "mark":{"type":"point","filled":true,"opacity":1,"size":26,"color":"#000"},
   "encoding":{
    "x":{"field":"g","type":"nominal","scale":{"type":"point","domain":["N","M"],"padding":0.46,"align":0.54},"axis":{"title":"Inflammatory cell infiltration","labelExpr":"datum.value=='N'?'None/mild':'Moderate/Severe'","labelAngle":0,"labelFont":"Liberation Serif","titleFont":"Liberation Serif","labelFontSize":16,"titleFontSize":17.5,"labelPadding":15,"titlePadding":14,"encode":{"labels":{"update":{"font":{"value":"Liberation Serif"}}}}}},
    "xOffset":{"field":"s0","type":"quantitative","scale":{"domain":[-6,14],"range":[-55,55]}},
    "y":{"field":"v","type":"quantitative","scale":{"type":"log","domain":[1,400]},"axis":{"title":"Urinayr NAG/Cr ratio (U/gCr)","values":[1,10,100],"format":"d","labelFont":"Liberation Serif","titleFont":"Liberation Serif","labelFontSize":13,"titleFontSize":17.5,"labelPadding":7,"titlePadding":5,"encode":{"labels":{"update":{"font":{"value":"Liberation Serif"}}}}}},
    "shape":{"field":"g","type":"nominal","scale":{"domain":["N","M"],"range":["circle","triangle-up"]},"legend":null}}},
  {"data":{"name":"box"},"transform":[{"filter":"datum.p=='d'"}],"mark":{"type":"rule","strokeWidth":2},
   "encoding":{"x":{"field":"g","type":"nominal","scale":{"type":"point","domain":["N","M"],"padding":0.46,"align":0.54}},"y":{"field":"lo","type":"quantitative","scale":{"type":"log","domain":[1,400]}},"y2":{"field":"hi"},"color":{"field":"g","type":"nominal","scale":{"domain":["N","M"],"range":["#3a68d8","#dc3c4c"]},"legend":null}}},
  {"data":{"name":"box"},"transform":[{"filter":"datum.p=='d'"}],"mark":{"type":"bar","width":57,"filled":false,"strokeWidth":2},
   "encoding":{"x":{"field":"g","type":"nominal","scale":{"type":"point","domain":["N","M"],"padding":0.46,"align":0.54}},"y":{"field":"q1","type":"quantitative","scale":{"type":"log","domain":[1,400]}},"y2":{"field":"q3"},"color":{"field":"g","type":"nominal","scale":{"domain":["N","M"],"range":["#3a68d8","#dc3c4c"]},"legend":null}}},
  {"data":{"name":"box"},"transform":[{"filter":"datum.p=='d'"},{"fold":["lo","md","hi"]}],"mark":{"type":"bar","width":57,"filled":false,"strokeWidth":2},
   "encoding":{"x":{"field":"g","type":"nominal","scale":{"type":"point","domain":["N","M"],"padding":0.46,"align":0.54}},"y":{"field":"value","type":"quantitative","scale":{"type":"log","domain":[1,400]}},"y2":{"field":"value"},"color":{"field":"g","type":"nominal","scale":{"domain":["N","M"],"range":["#3a68d8","#dc3c4c"]},"legend":null}}},
  {"data":{"name":"pv"},"transform":[{"filter":"datum.p=='d'"}],"mark":{"type":"rule","strokeWidth":3,"color":"#000","xOffset":9,"x2Offset":-3,"yOffset":-2},
   "encoding":{"x":{"datum":"N","type":"nominal","scale":{"type":"point","domain":["N","M"],"padding":0.46,"align":0.54}},"x2":{"datum":"M"},"y":{"datum":400,"type":"quantitative","scale":{"type":"log","domain":[1,400]}}}},
  {"data":{"name":"pv"},"transform":[{"filter":"datum.p=='d'"}],"mark":{"type":"text","text":"p","fontStyle":"italic","fontWeight":"bold","fontSize":15,"align":"right","baseline":"alphabetic","xOffset":56,"yOffset":-9,"color":"#000"},
   "encoding":{"x":{"datum":"N","type":"nominal","scale":{"type":"point","domain":["N","M"],"padding":0.46,"align":0.54}},"y":{"datum":400,"type":"quantitative","scale":{"type":"log","domain":[1,400]}}}},
  {"data":{"name":"pv"},"transform":[{"filter":"datum.p=='d'"}],"mark":{"type":"text","fontWeight":"bold","fontSize":15,"align":"left","baseline":"alphabetic","xOffset":59,"yOffset":-9,"color":"#000"},
   "encoding":{"text":{"field":"t"},"x":{"datum":"N","type":"nominal","scale":{"type":"point","domain":["N","M"],"padding":0.46,"align":0.54}},"y":{"datum":400,"type":"quantitative","scale":{"type":"log","domain":[1,400]}}}}
 ]}
]}
]
}
